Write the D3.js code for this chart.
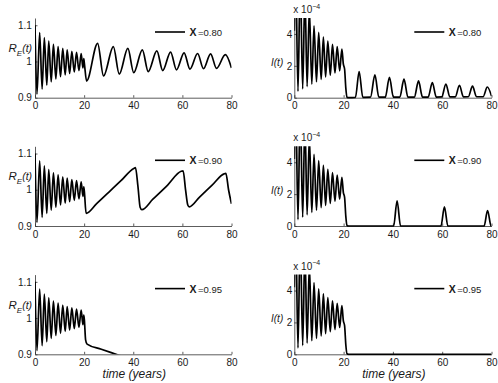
<!DOCTYPE html>
<html>
<head>
<meta charset="utf-8">
<script src="https://cdn.jsdelivr.net/npm/d3@7"></script>
<style>
  body { margin: 0; background: #fff; }
  svg { display: block; font-family: "Liberation Sans", Arial, Helvetica, sans-serif; }
</style>
</head>
<body>
<svg id="chart" width="498" height="383"></svg>
<script>
// vaccination fraction used in each row
const chiValues = ["0.80", "0.90", "0.95"];
const timeTicks = [0, 20, 40, 60, 80];
const reTicks = [0.9, 1, 1.1];
const infTicks = [0, 2, 4];

// R_E(t) up to t = 20, identical in every row  [time, value]
const reBefore = [
  [0, 1.1], [0.8, 0.91], [1.9, 1.08], [2.9, 0.924], [3.8, 1.066], [4.8, 0.935],
  [5.6, 1.056], [6.6, 0.944], [7.5, 1.047], [8.5, 0.952], [9.4, 1.041], [10.4, 0.958],
  [11.3, 1.036], [12.3, 0.963], [13.1, 1.032], [14.1, 0.967], [15.0, 1.028], [16.0, 0.971],
  [16.9, 1.025], [17.9, 0.975], [18.8, 1.022], [19.5, 0.982], [19.85, 1.008]
];
const reAfter80 = [
  [20.1, 0.995], [21.0, 0.946], [25.5, 1.05], [27.9, 0.96], [31.9, 1.041], [34.3, 0.965],
  [37.8, 1.036], [40.2, 0.969], [43.7, 1.032], [46.1, 0.972], [49.6, 1.029], [52.0, 0.975],
  [55.2, 1.026], [57.6, 0.977], [60.7, 1.024], [63.1, 0.979], [66.2, 1.022], [68.6, 0.98],
  [71.5, 1.021], [73.9, 0.981], [77.5, 1.019], [80, 0.982]
];
const reAfter90 = [
  [20.1, 0.995], [20.8, 0.935], [25, 0.961], [30, 0.993], [35, 1.025], [40.2, 1.059],
  [40.9, 1.061], [41.9, 1.01], [42.8, 0.952], [43.5, 0.945], [48, 0.974], [54, 1.013],
  [59.5, 1.051], [60.3, 1.052], [61.3, 1.0], [62.2, 0.958], [62.8, 0.953], [67, 0.98],
  [72, 1.012], [77.0, 1.044], [77.7, 1.045], [78.8, 1.0], [80, 0.961]
];
const reAfter95 = [
  [20.1, 0.995], [20.6, 0.94], [21.2, 0.928], [27, 0.914], [33, 0.9], [80, 0.79]
];

// I(t) in units of 1e-4, up to t = 20
const infBefore = [
  [0, 4.2], [0.5, 8.5], [1.5, 0.4], [2.4, 7.6], [3.4, 0.55], [4.3, 6.6], [5.2, 0.7],
  [6.1, 5.6], [7.1, 0.85], [8.0, 4.5], [9.0, 1.0], [9.9, 4.1], [10.9, 1.15], [11.8, 3.8],
  [12.7, 1.3], [13.6, 3.55], [14.6, 1.42], [15.5, 3.35], [16.5, 1.55], [17.4, 3.2],
  [18.4, 1.68], [19.3, 3.05], [19.9, 2.1]
];
const infAfter80 = [
  [20.4, 1.8], [20.9, 0.6], [21.4, 0.03], [22, 0], [24.8, 0.02], [26.3, 1.64], [27.8, 0.02],
  [30.9, 0.03], [32.7, 1.43], [34.3, 0.03], [36.9, 0.03], [38.6, 1.28], [40.2, 0.03],
  [42.8, 0.03], [44.5, 1.16], [46.1, 0.03], [48.7, 0.04], [50.4, 1.05], [52.0, 0.04],
  [54.3, 0.04], [56.0, 0.95], [57.6, 0.04], [59.8, 0.05], [61.5, 0.86], [63.1, 0.05],
  [65.3, 0.05], [67.0, 0.78], [68.6, 0.05], [70.6, 0.06], [72.3, 0.73], [73.9, 0.06],
  [76.6, 0.06], [78.3, 0.67], [80, 0.1]
];
const infAfter90 = [
  [20.4, 1.8], [20.9, 0.6], [21.4, 0.03], [22, 0], [40.3, 0], [41.7, 1.58], [43.1, 0],
  [59.5, 0], [60.9, 1.2], [62.3, 0], [77.0, 0], [78.4, 0.97], [79.8, 0.01], [80, 0]
];
const infAfter95 = [
  [20.4, 1.8], [20.9, 0.6], [21.4, 0.03], [22, 0], [80, 0]
];

const reRows = [reAfter80, reAfter90, reAfter95].map(a => reBefore.concat(a));
const infRows = [infAfter80, infAfter90, infAfter95].map(a => infBefore.concat(a));

const svg = d3.select('#chart');
const rowTops = [18, 146.3, 274.6];
const plotH = 79.7;
const cols = [
  { x0: 35, x1: 231.5, kind: 're' },
  { x0: 294.3, x1: 491.5, kind: 'inf' }
];
const ink = '#1a1a1a';

rowTops.forEach((top, r) => {
  const bottom = top + plotH;
  cols.forEach((col, c) => {
    const x = d3.scaleLinear().domain([0, 80]).range([col.x0, col.x1]);
    const y = col.kind === 're'
      ? d3.scaleLinear().domain([0.9, 1.12]).range([bottom, top])
      : d3.scaleLinear().domain([0, 5]).range([bottom, top]);
    const g = svg.append('g');

    // axes, MATLAB style: ticks pointing inward
    const xAxis = g.append('g')
      .attr('transform', `translate(0,${bottom})`)
      .call(d3.axisBottom(x).tickValues(timeTicks).tickFormat(d3.format('d'))
        .tickSizeInner(-2.5).tickSizeOuter(0).tickPadding(4.5));
    const yAxis = g.append('g')
      .attr('transform', `translate(${col.x0},0)`)
      .call(d3.axisLeft(y).tickValues(col.kind === 're' ? reTicks : infTicks)
        .tickFormat(d3.format('~g')).tickSizeInner(-2.5).tickSizeOuter(0)
        .tickPadding(col.kind === 're' ? 3.2 : 2));
    [xAxis, yAxis].forEach(a => {
      a.select('.domain').attr('stroke', '#333').attr('stroke-width', 0.8);
      a.selectAll('.tick line').attr('stroke', '#333').attr('stroke-width', 0.8);
      a.selectAll('.tick text').attr('fill', ink).style('font-size', '10px');
    });

    // clip the curve to the axes box
    const clipId = `clip-${r}-${c}`;
    g.append('clipPath').attr('id', clipId)
      .append('rect')
      .attr('x', col.x0).attr('y', top)
      .attr('width', col.x1 - col.x0)
      .attr('height', plotH + (col.kind === 'inf' ? 1.2 : 0));

    const line = d3.line()
      .x(d => x(d[0]))
      .y(d => y(d[1]))
      .curve(d3.curveMonotoneX);

    g.append('path')
      .datum(col.kind === 're' ? reRows[r] : infRows[r])
      .attr('clip-path', `url(#${clipId})`)
      .attr('fill', 'none')
      .attr('stroke', '#000')
      .attr('stroke-width', 1.7)
      .attr('stroke-linejoin', 'round')
      .attr('d', line);

    // legend
    g.append('line')
      .attr('x1', col.x0 + 120).attr('x2', col.x0 + 150)
      .attr('y1', top + 14).attr('y2', top + 14)
      .attr('stroke', '#000').attr('stroke-width', 1.6);
    const leg = g.append('text')
      .attr('x', col.x0 + 154.5).attr('y', top + 18)
      .attr('fill', ink);
    leg.append('tspan').attr('font-weight', 'bold').style('font-size', '10.5px').text('X');
    leg.append('tspan').attr('dx', 1.5).style('font-size', '9.5px').text('=' + chiValues[r]);

    // y labels
    if (col.kind === 're') {
      const lab = g.append('text')
        .attr('x', 8.5).attr('y', top + 34)
        .attr('fill', ink).attr('font-style', 'italic');
      lab.append('tspan').style('font-size', '11.5px').text('R');
      lab.append('tspan').attr('dy', 4).style('font-size', '8px').text('E');
      lab.append('tspan').attr('dy', -4).style('font-size', '10.5px').text('(t)');
    } else {
      g.append('text')
        .attr('x', 271).attr('y', top + 47.5)
        .attr('fill', ink).attr('font-style', 'italic')
        .style('font-size', '10px').text('I(t)');
      const mult = g.append('text')
        .attr('x', col.x0 - 1).attr('y', top - 5)
        .attr('fill', ink).style('font-size', '10px');
      mult.append('tspan').text('x 10');
      mult.append('tspan').attr('dy', -4.5).style('font-size', '7px').text('\u22124');
    }

    if (r === rowTops.length - 1) {
      g.append('text')
        .attr('x', (col.x0 + col.x1) / 2 + 1).attr('y', bottom + 23.5)
        .attr('text-anchor', 'middle').attr('font-style', 'italic')
        .attr('fill', ink).style('font-size', '12px')
        .text('time (years)');
    }
  });
});
</script>
</body>
</html>
